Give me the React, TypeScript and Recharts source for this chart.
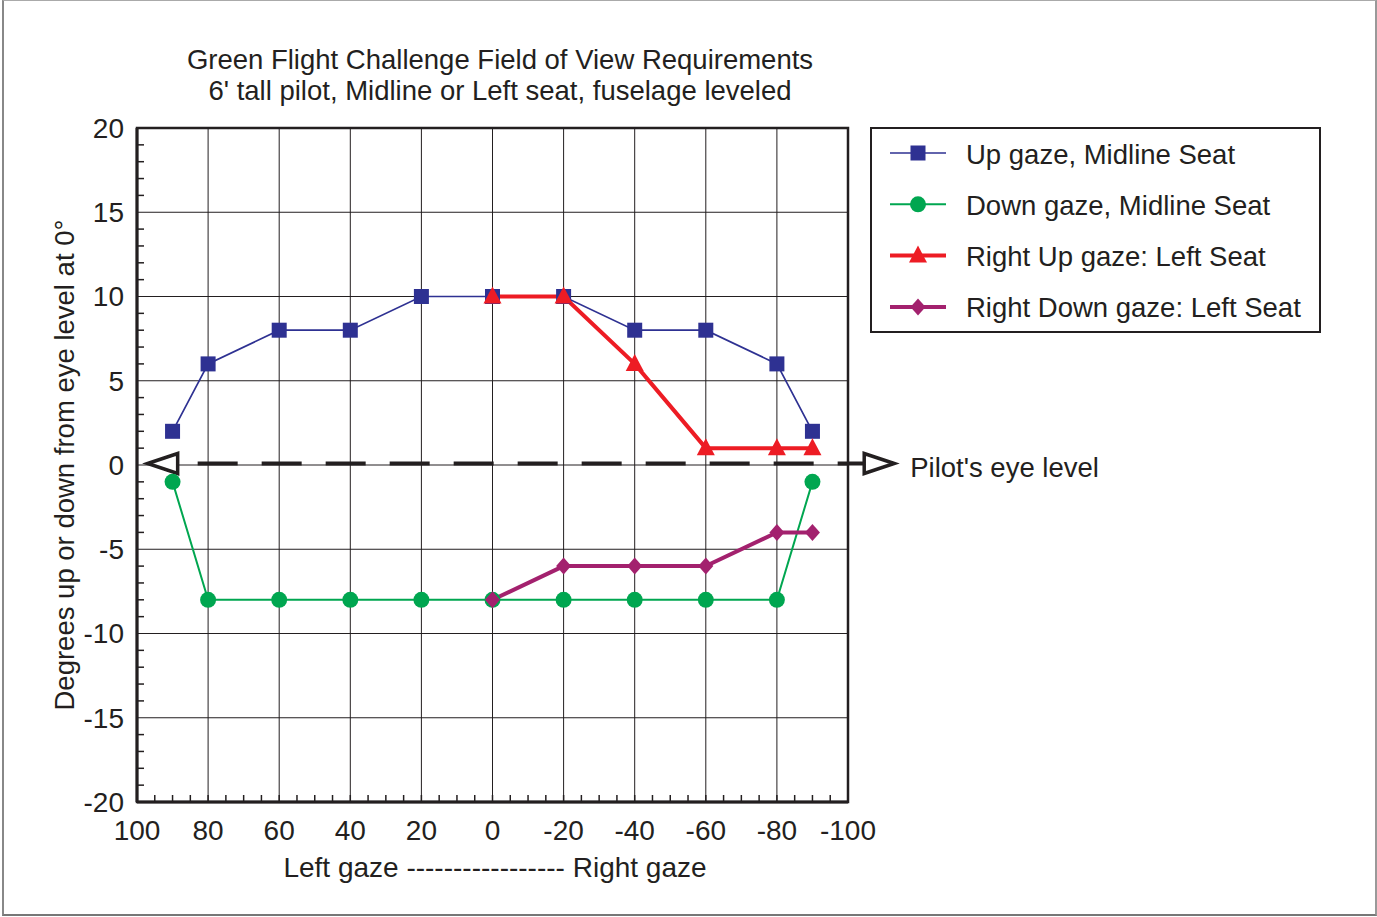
import React from 'react';
import { LineChart, Line, XAxis, YAxis, CartesianGrid, ReferenceLine, ReferenceArea, Legend } from 'recharts';

// gaze angle (deg) -> degrees up/down from eye level
const upGazeMidline = [
  { x: 90, y: 2 }, { x: 80, y: 6 }, { x: 60, y: 8 }, { x: 40, y: 8 }, { x: 20, y: 10 }, { x: 0, y: 10 },
  { x: -20, y: 10 }, { x: -40, y: 8 }, { x: -60, y: 8 }, { x: -80, y: 6 }, { x: -90, y: 2 },
];
const downGazeMidline = [
  { x: 90, y: -1 }, { x: 80, y: -8 }, { x: 60, y: -8 }, { x: 40, y: -8 }, { x: 20, y: -8 }, { x: 0, y: -8 },
  { x: -20, y: -8 }, { x: -40, y: -8 }, { x: -60, y: -8 }, { x: -80, y: -8 }, { x: -90, y: -1 },
];
const rightUpLeftSeat = [
  { x: 0, y: 10 }, { x: -20, y: 10 }, { x: -40, y: 6 }, { x: -60, y: 1 }, { x: -80, y: 1 }, { x: -90, y: 1 },
];
const rightDownLeftSeat = [
  { x: 0, y: -8 }, { x: -20, y: -6 }, { x: -40, y: -6 }, { x: -60, y: -6 }, { x: -80, y: -4 }, { x: -90, y: -4 },
];

const xTicks = [100, 80, 60, 40, 20, 0, -20, -40, -60, -80, -100];
const xMinorTicks = [95, 90, 85, 75, 70, 65, 55, 50, 45, 35, 30, 25, 15, 10, 5, -5, -10, -15, -25, -30, -35, -45, -50, -55, -65, -70, -75, -85, -90, -95];
const yTicks = [-20, -15, -10, -5, 0, 5, 10, 15, 20];
const yMinorTicks = [-19, -18, -17, -16, -14, -13, -12, -11, -9, -8, -7, -6, -4, -3, -2, -1, 1, 2, 3, 4, 6, 7, 8, 9, 11, 12, 13, 14, 16, 17, 18, 19];
const eyeLevelSegment = [{ x: 97, y: 0 }, { x: -113, y: 0 }];

const INK = '#231f20';
const FONT = '"Liberation Sans", Arial, sans-serif';

type Shape = 'square' | 'circle' | 'triangle' | 'diamond';

const series: { name: string; data: { x: number; y: number }[]; color: string; width: number; shape: Shape }[] = [
  { name: 'Up gaze, Midline Seat', data: upGazeMidline, color: '#2e3192', width: 1.7, shape: 'square' },
  { name: 'Down gaze, Midline Seat', data: downGazeMidline, color: '#00a650', width: 2, shape: 'circle' },
  { name: 'Right Up gaze: Left Seat', data: rightUpLeftSeat, color: '#ed1c24', width: 4, shape: 'triangle' },
  { name: 'Right Down gaze: Left Seat', data: rightDownLeftSeat, color: '#a3216e', width: 4, shape: 'diamond' },
];

const marker = (shape: Shape, cx: number, cy: number, color: string, key?: any) => {
  if (shape === 'square') return <rect key={key} x={cx - 7.5} y={cy - 7.5} width={15} height={15} fill={color} />;
  if (shape === 'circle') return <circle key={key} cx={cx} cy={cy} r={8} fill={color} />;
  if (shape === 'triangle')
    return <path key={key} d={`M${cx},${cy - 10} L${cx + 9},${cy + 7} L${cx - 9},${cy + 7} Z`} fill={color} />;
  return <path key={key} d={`M${cx},${cy - 8.5} L${cx + 7.5},${cy} L${cx},${cy + 8.5} L${cx - 7.5},${cy} Z`} fill={color} />;
};

const EyeLevel = (props: any) => {
  const { x1, y1, x2 } = props;
  const y = y1 - 1.5;
  const a = 30;
  return (
    <g>
      <line x1={x1 + a} y1={y} x2={x2 - a} y2={y} stroke={INK} strokeWidth={4} strokeDasharray="40 24" strokeDashoffset={44} />
      <path d={`M${x1},${y} L${x1 + a},${y - 10} L${x1 + a},${y + 10} Z`} fill="#fff" stroke={INK} strokeWidth={3.5} />
      <path d={`M${x2},${y} L${x2 - a},${y - 10} L${x2 - a},${y + 10} Z`} fill="#fff" stroke={INK} strokeWidth={3.5} />
      <text x={x2 + 16} y={y + 4} dominantBaseline="central" fontSize={27.5} fill={INK} fontFamily={FONT}>
        Pilot's eye level
      </text>
    </g>
  );
};

// labels only on the major gaze ticks; minor ones keep just their tick mark
const XTickLabel = (props: any) => {
  const { x, y, payload } = props;
  if (!xTicks.includes(payload.value)) return <g />;
  return (
    <text x={x} y={y} dy="0.71em" textAnchor="middle" fontSize={28} fill={INK} fontFamily={FONT}>
      {payload.value}
    </text>
  );
};

const LegendBox = () => (
  <div style={{ width: 451, height: 206, border: `2px solid ${INK}`, boxSizing: 'border-box', background: '#fff' }}>
    <svg width={447} height={202}>
      {series.map((s, i) => {
        const cy = 24 + i * 51.3;
        return (
          <g key={s.name}>
            <line x1={18} y1={cy} x2={74} y2={cy} stroke={s.color} strokeWidth={s.width} />
            {marker(s.shape, 46, cy, s.color)}
            <text x={94} y={cy + 1} dominantBaseline="central" fontSize={27.5} fill={INK} fontFamily={FONT}>
              {s.name}
            </text>
          </g>
        );
      })}
    </svg>
  </div>
);

const noLabel = () => <g />;

export default function App() {
  return (
    <div style={{ position: 'absolute', left: 0, top: 0, width: 1377, height: 917, background: '#fff', fontFamily: FONT, color: INK }}>
      <div style={{ position: 'absolute', left: 2, top: 0, width: 1375, height: 916, boxSizing: 'border-box', borderTop: '1px solid #aaa', borderLeft: '2px solid #888', borderRight: '2px solid #999', borderBottom: '2px solid #777' }} />
      <div style={{ position: 'absolute', left: 0, top: 44, width: 1000, textAlign: 'center', fontSize: 27.5, lineHeight: '31px' }}>
        Green Flight Challenge Field of View Requirements
        <br />
        6' tall pilot, Midline or Left seat, fuselage leveled
      </div>
      <div style={{ position: 'absolute', left: 65 - 350, top: 465 - 16, width: 700, textAlign: 'center', fontSize: 27.5, lineHeight: '32px', transform: 'rotate(-90deg)' }}>
        Degrees up or down from eye level at 0°
      </div>
      <div style={{ position: 'absolute', left: 495 - 350, top: 852, width: 700, textAlign: 'center', fontSize: 28, lineHeight: '32px' }}>
        Left gaze ----------------- Right gaze
      </div>
      <div style={{ position: 'absolute', left: 0, top: 0 }}>
        <LineChart width={1377} height={917} margin={{ top: 128, right: 529, bottom: 75, left: 77 }}>
          <CartesianGrid stroke={INK} strokeWidth={1} vertical={false} />
          {xTicks.map((v) => (
            <ReferenceLine key={`grid-${v}`} x={v} stroke={INK} strokeWidth={1} />
          ))}
          <XAxis
            type="number"
            dataKey="x"
            domain={[-100, 100]}
            reversed
            ticks={[...xTicks, ...xMinorTicks]}
            interval={0}
            height={40}
            tickSize={-7}
            tickMargin={25}
            tickLine={{ stroke: INK, strokeWidth: 1.5 }}
            axisLine={{ stroke: INK, strokeWidth: 3 }}
            tick={XTickLabel}
          />
          <YAxis
            type="number"
            domain={[-20, 20]}
            ticks={yTicks}
            interval={0}
            width={60}
            tickLine={false}
            tickMargin={7}
            axisLine={{ stroke: INK, strokeWidth: 3 }}
            tick={{ fill: INK, fontSize: 28, fontFamily: FONT }}
          />
          <YAxis yAxisId="minor" type="number" domain={[-20, 20]} allowDataOverflow ticks={yMinorTicks} interval={0} mirror width={2} tick={noLabel} tickSize={7} axisLine={false} tickLine={{ stroke: INK, strokeWidth: 1.5 }} />
          <ReferenceArea x1={100} x2={-100} y1={-20} y2={20} fill="none" stroke={INK} strokeWidth={2.5} ifOverflow="visible" />
          <ReferenceLine segment={eyeLevelSegment} ifOverflow="visible" shape={EyeLevel} />
          {series.map((s) => (
            <Line
              key={s.name}
              data={s.data}
              dataKey="y"
              name={s.name}
              stroke={s.color}
              strokeWidth={s.width}
              isAnimationActive={false}
              activeDot={false}
              dot={(p: any) => marker(s.shape, p.cx, p.cy, s.color, `${s.name}-${p.index}`)}
            />
          ))}
          <Legend layout="vertical" align="center" verticalAlign="middle" wrapperStyle={{ left: 870, top: 127, width: 451, height: 206 }} content={() => <LegendBox />} />
        </LineChart>
      </div>
    </div>
  );
}
